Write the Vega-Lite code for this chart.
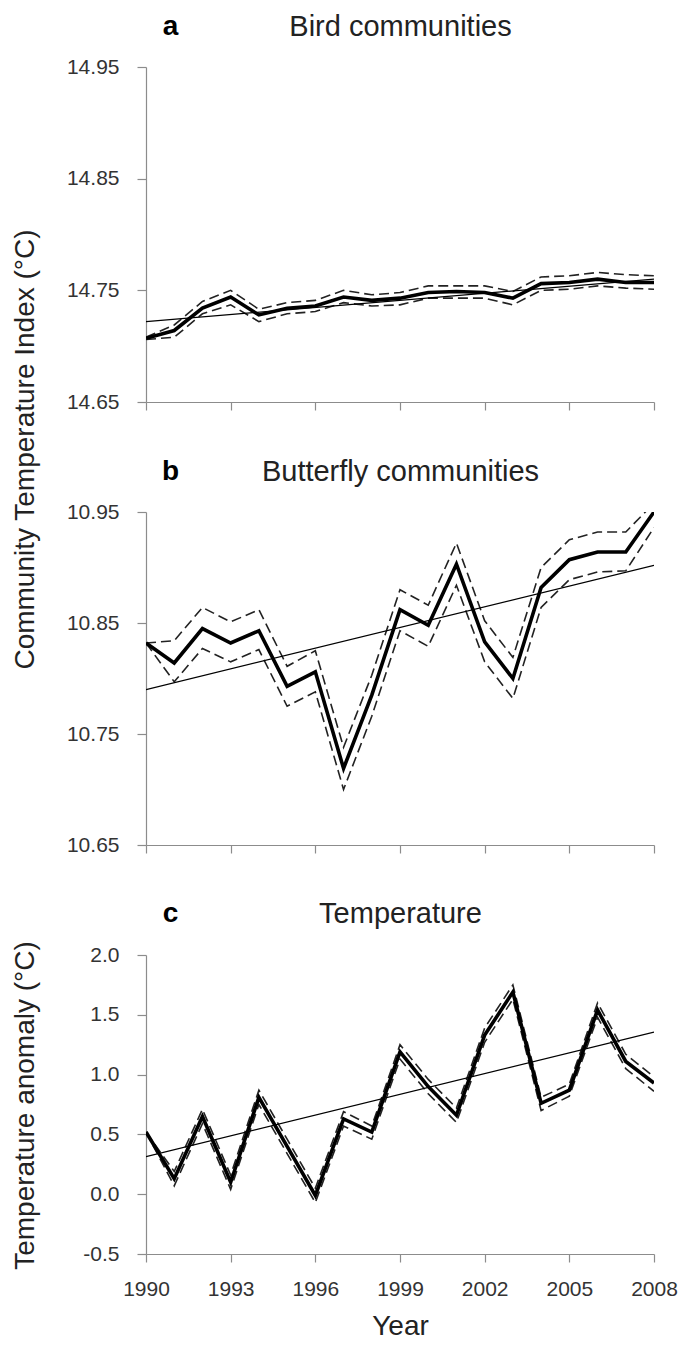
{
  "$schema": "https://vega.github.io/schema/vega-lite/v6.json",
  "background": "white",
  "padding": {"left": 10, "top": 12, "right": 3, "bottom": 5},
  "bounds": "flush",
  "spacing": 110,
  "config": {
    "view": {"stroke": null},
    "font": "Liberation Sans",
    "axis": {
      "grid": false,
      "domainColor": "#8c8c8c",
      "tickColor": "#8c8c8c",
      "domainWidth": 1.2,
      "tickWidth": 1.2,
      "labelFont": "Liberation Sans",
      "labelFontSize": 21,
      "labelColor": "#333333",
      "labelFlush": false,
      "labelOverlap": false,
      "titleFont": "Liberation Sans",
      "titleFontSize": 28,
      "titleFontWeight": "normal",
      "titleColor": "#222222"
    }
  },
  "datasets": {
    "bird": [
      {"year": 1990, "mean": 14.707, "lower": 14.706, "upper": 14.708},
      {"year": 1991, "mean": 14.714, "lower": 14.708, "upper": 14.719},
      {"year": 1992, "mean": 14.734, "lower": 14.729, "upper": 14.740},
      {"year": 1993, "mean": 14.744, "lower": 14.737, "upper": 14.750},
      {"year": 1994, "mean": 14.728, "lower": 14.722, "upper": 14.733},
      {"year": 1995, "mean": 14.734, "lower": 14.729, "upper": 14.739},
      {"year": 1996, "mean": 14.736, "lower": 14.731, "upper": 14.741},
      {"year": 1997, "mean": 14.744, "lower": 14.739, "upper": 14.750},
      {"year": 1998, "mean": 14.741, "lower": 14.736, "upper": 14.746},
      {"year": 1999, "mean": 14.743, "lower": 14.737, "upper": 14.748},
      {"year": 2000, "mean": 14.748, "lower": 14.743, "upper": 14.754},
      {"year": 2001, "mean": 14.749, "lower": 14.743, "upper": 14.754},
      {"year": 2002, "mean": 14.748, "lower": 14.743, "upper": 14.754},
      {"year": 2003, "mean": 14.743, "lower": 14.737, "upper": 14.749},
      {"year": 2004, "mean": 14.756, "lower": 14.750, "upper": 14.762},
      {"year": 2005, "mean": 14.757, "lower": 14.751, "upper": 14.763},
      {"year": 2006, "mean": 14.760, "lower": 14.754, "upper": 14.766},
      {"year": 2007, "mean": 14.757, "lower": 14.752, "upper": 14.764},
      {"year": 2008, "mean": 14.757, "lower": 14.751, "upper": 14.763}
    ],
    "butterfly": [
      {"year": 1990, "mean": 10.832, "lower": 10.832, "upper": 10.832},
      {"year": 1991, "mean": 10.814, "lower": 10.797, "upper": 10.834},
      {"year": 1992, "mean": 10.845, "lower": 10.827, "upper": 10.864},
      {"year": 1993, "mean": 10.832, "lower": 10.815, "upper": 10.851},
      {"year": 1994, "mean": 10.843, "lower": 10.826, "upper": 10.862},
      {"year": 1995, "mean": 10.793, "lower": 10.775, "upper": 10.811},
      {"year": 1996, "mean": 10.806, "lower": 10.788, "upper": 10.825},
      {"year": 1997, "mean": 10.719, "lower": 10.700, "upper": 10.738},
      {"year": 1998, "mean": 10.785, "lower": 10.766, "upper": 10.803},
      {"year": 1999, "mean": 10.862, "lower": 10.843, "upper": 10.880},
      {"year": 2000, "mean": 10.848, "lower": 10.829, "upper": 10.866},
      {"year": 2001, "mean": 10.903, "lower": 10.884, "upper": 10.922},
      {"year": 2002, "mean": 10.833, "lower": 10.815, "upper": 10.852},
      {"year": 2003, "mean": 10.800, "lower": 10.782, "upper": 10.819},
      {"year": 2004, "mean": 10.882, "lower": 10.864, "upper": 10.900},
      {"year": 2005, "mean": 10.907, "lower": 10.889, "upper": 10.925},
      {"year": 2006, "mean": 10.914, "lower": 10.896, "upper": 10.932},
      {"year": 2007, "mean": 10.914, "lower": 10.897, "upper": 10.932},
      {"year": 2008, "mean": 10.950, "lower": 10.936, "upper": 10.958}
    ],
    "temp": [
      {"year": 1990, "mean": 0.52, "lower": 0.52, "upper": 0.52},
      {"year": 1991, "mean": 0.13, "lower": 0.07, "upper": 0.19},
      {"year": 1992, "mean": 0.65, "lower": 0.59, "upper": 0.71},
      {"year": 1993, "mean": 0.10, "lower": 0.04, "upper": 0.16},
      {"year": 1994, "mean": 0.81, "lower": 0.75, "upper": 0.87},
      {"year": 1995, "mean": 0.40, "lower": 0.34, "upper": 0.46},
      {"year": 1996, "mean": -0.01, "lower": -0.07, "upper": 0.05},
      {"year": 1997, "mean": 0.63, "lower": 0.57, "upper": 0.69},
      {"year": 1998, "mean": 0.52, "lower": 0.46, "upper": 0.57},
      {"year": 1999, "mean": 1.19, "lower": 1.13, "upper": 1.25},
      {"year": 2000, "mean": 0.90, "lower": 0.84, "upper": 0.96},
      {"year": 2001, "mean": 0.66, "lower": 0.60, "upper": 0.72},
      {"year": 2002, "mean": 1.33, "lower": 1.27, "upper": 1.39},
      {"year": 2003, "mean": 1.69, "lower": 1.63, "upper": 1.75},
      {"year": 2004, "mean": 0.76, "lower": 0.70, "upper": 0.81},
      {"year": 2005, "mean": 0.87, "lower": 0.82, "upper": 0.92},
      {"year": 2006, "mean": 1.54, "lower": 1.48, "upper": 1.60},
      {"year": 2007, "mean": 1.11, "lower": 1.05, "upper": 1.17},
      {"year": 2008, "mean": 0.93, "lower": 0.86, "upper": 0.98}
    ],
    "trend_bird": [
      {"year": 1990, "value": 14.722},
      {"year": 2008, "value": 14.760}
    ],
    "trend_butterfly": [
      {"year": 1990, "value": 10.790},
      {"year": 2008, "value": 10.902}
    ],
    "trend_temp": [
      {"year": 1990, "value": 0.314},
      {"year": 2008, "value": 1.356}
    ]
  },
  "vconcat": [
    {
      "width": 508,
      "height": 335,
      "resolve": {"axis": {"x": "independent", "y": "independent"}},
      "layer": [
        {
          "data": {"name": "bird"},
          "mark": {"type": "line", "strokeWidth": 1.6, "strokeDash": [10, 5], "color": "#222222", "clip": true},
          "encoding": {
            "x": {
              "field": "year", "type": "quantitative",
              "scale": {"domain": [1990, 2008], "nice": false, "zero": false},
              "axis": {"orient": "bottom", "values": [1990, 1993, 1996, 1999, 2002, 2005, 2008], "labels": false, "tickSize": 8, "title": null}
            },
            "y": {
              "field": "lower", "type": "quantitative",
              "scale": {"domain": [14.65, 14.95], "nice": false, "zero": false},
              "axis": {
                "orient": "left",
                "values": [14.65, 14.75, 14.85, 14.95],
                "format": ".2f",
                "tickSize": 9,
                "labelPadding": 18,
                "title": "Community Temperature Index (°C)",
                "titleX": -121,
                "titleY": 382,
                "titleBaseline": "middle",
                "titleAlign": "center",
                "titleAngle": -90
              }
            }
          }
        },
        {
          "data": {"name": "bird"},
          "mark": {"type": "line", "strokeWidth": 1.6, "strokeDash": [10, 5], "color": "#222222", "clip": true},
          "encoding": {
            "x": {
              "field": "year", "type": "quantitative",
              "scale": {"domain": [1990, 2008], "nice": false, "zero": false},
              "axis": {"orient": "top", "labels": false, "ticks": false, "domain": false, "title": "a", "titleAngle": 0, "titleX": 24, "titleY": -41, "titleBaseline": "middle", "titleAlign": "center", "titleFontWeight": "bold", "titleFontSize": 28, "titleColor": "#000000"}
            },
            "y": {"field": "upper", "type": "quantitative", "scale": {"domain": [14.65, 14.95], "nice": false, "zero": false}, "axis": null}
          }
        },
        {
          "data": {"name": "bird"},
          "mark": {"type": "line", "strokeWidth": 3.6, "color": "#000000", "clip": true},
          "encoding": {
            "x": {"field": "year", "type": "quantitative", "scale": {"domain": [1990, 2008], "nice": false, "zero": false}, "axis": null},
            "y": {"field": "mean", "type": "quantitative", "scale": {"domain": [14.65, 14.95], "nice": false, "zero": false}, "axis": null}
          }
        },
        {
          "data": {"name": "trend_bird"},
          "mark": {"type": "line", "strokeWidth": 1.2, "color": "#000000", "clip": true},
          "encoding": {
            "x": {"field": "year", "type": "quantitative", "scale": {"domain": [1990, 2008], "nice": false, "zero": false}, "axis": null},
            "y": {
              "field": "value", "type": "quantitative",
              "scale": {"domain": [14.65, 14.95], "nice": false, "zero": false},
              "axis": {"orient": "right", "labels": false, "ticks": false, "domain": false, "title": "Bird communities", "titleAngle": 0, "titleX": -254, "titleY": -41, "titleBaseline": "middle", "titleAlign": "center", "titleFontSize": 29, "titleColor": "#222222"}
            }
          }
        }
      ]
    },
    {
      "width": 508,
      "height": 333,
      "resolve": {"axis": {"x": "independent", "y": "independent"}},
      "layer": [
        {
          "data": {"name": "butterfly"},
          "mark": {"type": "line", "strokeWidth": 1.6, "strokeDash": [10, 5], "color": "#222222", "clip": true},
          "encoding": {
            "x": {
              "field": "year", "type": "quantitative",
              "scale": {"domain": [1990, 2008], "nice": false, "zero": false},
              "axis": {"orient": "bottom", "values": [1990, 1993, 1996, 1999, 2002, 2005, 2008], "labels": false, "tickSize": 8, "title": null}
            },
            "y": {
              "field": "lower", "type": "quantitative",
              "scale": {"domain": [10.65, 10.95], "nice": false, "zero": false},
              "axis": {"orient": "left", "values": [10.65, 10.75, 10.85, 10.95], "format": ".2f", "tickSize": 9, "labelPadding": 18, "title": null}
            }
          }
        },
        {
          "data": {"name": "butterfly"},
          "mark": {"type": "line", "strokeWidth": 1.6, "strokeDash": [10, 5], "color": "#222222", "clip": true},
          "encoding": {
            "x": {
              "field": "year", "type": "quantitative",
              "scale": {"domain": [1990, 2008], "nice": false, "zero": false},
              "axis": {"orient": "top", "labels": false, "ticks": false, "domain": false, "title": "b", "titleAngle": 0, "titleX": 24, "titleY": -41, "titleBaseline": "middle", "titleAlign": "center", "titleFontWeight": "bold", "titleFontSize": 28, "titleColor": "#000000"}
            },
            "y": {"field": "upper", "type": "quantitative", "scale": {"domain": [10.65, 10.95], "nice": false, "zero": false}, "axis": null}
          }
        },
        {
          "data": {"name": "butterfly"},
          "mark": {"type": "line", "strokeWidth": 3.6, "color": "#000000", "clip": true},
          "encoding": {
            "x": {"field": "year", "type": "quantitative", "scale": {"domain": [1990, 2008], "nice": false, "zero": false}, "axis": null},
            "y": {"field": "mean", "type": "quantitative", "scale": {"domain": [10.65, 10.95], "nice": false, "zero": false}, "axis": null}
          }
        },
        {
          "data": {"name": "trend_butterfly"},
          "mark": {"type": "line", "strokeWidth": 1.2, "color": "#000000", "clip": true},
          "encoding": {
            "x": {"field": "year", "type": "quantitative", "scale": {"domain": [1990, 2008], "nice": false, "zero": false}, "axis": null},
            "y": {
              "field": "value", "type": "quantitative",
              "scale": {"domain": [10.65, 10.95], "nice": false, "zero": false},
              "axis": {"orient": "right", "labels": false, "ticks": false, "domain": false, "title": "Butterfly communities", "titleAngle": 0, "titleX": -254, "titleY": -41, "titleBaseline": "middle", "titleAlign": "center", "titleFontSize": 29, "titleColor": "#222222"}
            }
          }
        }
      ]
    },
    {
      "width": 508,
      "height": 299,
      "resolve": {"axis": {"x": "independent", "y": "independent"}},
      "layer": [
        {
          "data": {"name": "temp"},
          "mark": {"type": "line", "strokeWidth": 1.6, "strokeDash": [10, 5], "color": "#222222", "clip": true},
          "encoding": {
            "x": {
              "field": "year", "type": "quantitative",
              "scale": {"domain": [1990, 2008], "nice": false, "zero": false},
              "axis": {"orient": "bottom", "values": [1990, 1993, 1996, 1999, 2002, 2005, 2008], "format": "d", "tickSize": 8, "labelPadding": 16, "title": "Year", "titleY": 72, "titleBaseline": "middle"}
            },
            "y": {
              "field": "lower", "type": "quantitative",
              "scale": {"domain": [-0.5, 2.0], "nice": false, "zero": false},
              "axis": {
                "orient": "left",
                "values": [-0.5, 0, 0.5, 1.0, 1.5, 2.0],
                "format": ".1f",
                "labelExpr": "replace(datum.label, '−', '-')",
                "tickSize": 9,
                "labelPadding": 18,
                "title": "Temperature anomaly (°C)",
                "titleX": -121,
                "titleY": 150,
                "titleBaseline": "middle",
                "titleAlign": "center",
                "titleAngle": -90
              }
            }
          }
        },
        {
          "data": {"name": "temp"},
          "mark": {"type": "line", "strokeWidth": 1.6, "strokeDash": [10, 5], "color": "#222222", "clip": true},
          "encoding": {
            "x": {
              "field": "year", "type": "quantitative",
              "scale": {"domain": [1990, 2008], "nice": false, "zero": false},
              "axis": {"orient": "top", "labels": false, "ticks": false, "domain": false, "title": "c", "titleAngle": 0, "titleX": 24, "titleY": -42, "titleBaseline": "middle", "titleAlign": "center", "titleFontWeight": "bold", "titleFontSize": 28, "titleColor": "#000000"}
            },
            "y": {"field": "upper", "type": "quantitative", "scale": {"domain": [-0.5, 2.0], "nice": false, "zero": false}, "axis": null}
          }
        },
        {
          "data": {"name": "temp"},
          "mark": {"type": "line", "strokeWidth": 3.6, "color": "#000000", "clip": true},
          "encoding": {
            "x": {"field": "year", "type": "quantitative", "scale": {"domain": [1990, 2008], "nice": false, "zero": false}, "axis": null},
            "y": {"field": "mean", "type": "quantitative", "scale": {"domain": [-0.5, 2.0], "nice": false, "zero": false}, "axis": null}
          }
        },
        {
          "data": {"name": "trend_temp"},
          "mark": {"type": "line", "strokeWidth": 1.2, "color": "#000000", "clip": true},
          "encoding": {
            "x": {"field": "year", "type": "quantitative", "scale": {"domain": [1990, 2008], "nice": false, "zero": false}, "axis": null},
            "y": {
              "field": "value", "type": "quantitative",
              "scale": {"domain": [-0.5, 2.0], "nice": false, "zero": false},
              "axis": {"orient": "right", "labels": false, "ticks": false, "domain": false, "title": "Temperature", "titleAngle": 0, "titleX": -254, "titleY": -42, "titleBaseline": "middle", "titleAlign": "center", "titleFontSize": 29, "titleColor": "#222222"}
            }
          }
        }
      ]
    }
  ]
}
